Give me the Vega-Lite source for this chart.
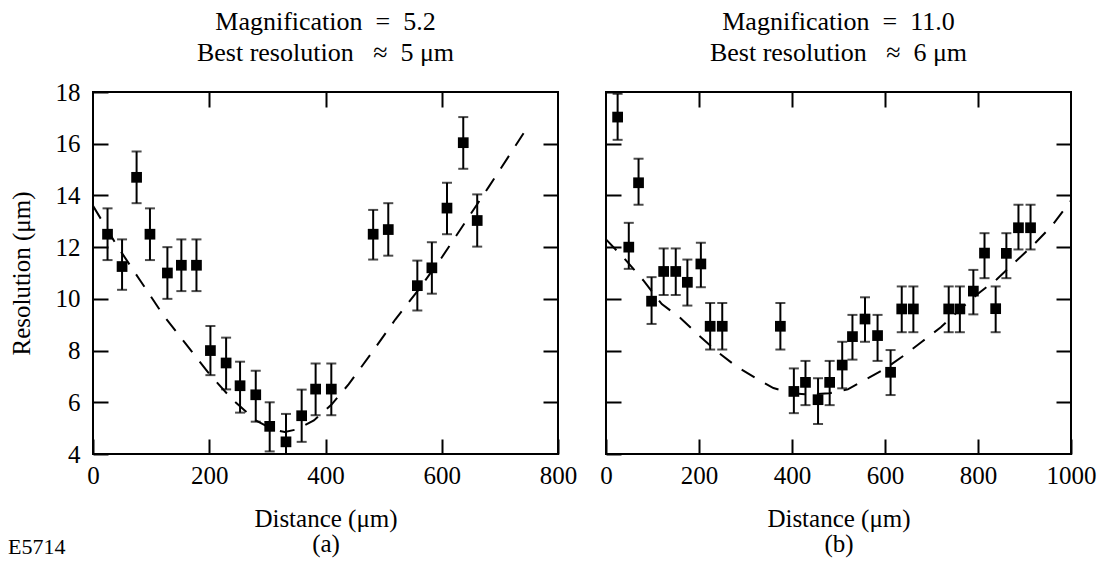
{
  "$schema": "https://vega.github.io/schema/vega-lite/v6.json",
  "background": "white",
  "padding": {"left": 8, "top": 8, "right": 5, "bottom": 2},
  "bounds": "flush",
  "spacing": 48,
  "title": {"text": "E5714", "orient": "bottom", "anchor": "start", "fontSize": 22, "offset": -20},
  "config": {
    "font": "Liberation Serif",
    "view": {"stroke": "black", "strokeWidth": 2},
    "axis": {
      "domain": false, "grid": false, "tickColor": "black", "tickWidth": 2, "tickSize": -15,
      "labelFontSize": 25, "labelColor": "black", "labelPadding": 28, "labelFont": "Liberation Serif",
      "titleFontSize": 25, "titleFontWeight": "normal", "titleColor": "black", "titleFont": "Liberation Serif",
      "labelFlush": false
    },
    "title": {"fontSize": 26, "fontWeight": "normal", "font": "Liberation Serif", "color": "black"}
  },
  "datasets": {
    "a_pts": [
      {"x": 25, "y": 12.5, "lo": 11.5, "hi": 13.5},
      {"x": 50, "y": 11.25, "lo": 10.35, "hi": 12.3},
      {"x": 75, "y": 14.7, "lo": 13.7, "hi": 15.7},
      {"x": 98, "y": 12.5, "lo": 11.5, "hi": 13.5},
      {"x": 128, "y": 11.0, "lo": 10.0, "hi": 12.0},
      {"x": 152, "y": 11.3, "lo": 10.3, "hi": 12.3},
      {"x": 178, "y": 11.3, "lo": 10.3, "hi": 12.3},
      {"x": 202, "y": 8.0, "lo": 7.05, "hi": 8.95},
      {"x": 229, "y": 7.52, "lo": 6.5, "hi": 8.5},
      {"x": 253, "y": 6.64, "lo": 5.6, "hi": 7.57},
      {"x": 280, "y": 6.29, "lo": 5.25, "hi": 7.22},
      {"x": 304, "y": 5.07, "lo": 4.1, "hi": 6.0},
      {"x": 332, "y": 4.47, "lo": 3.5, "hi": 5.55},
      {"x": 359, "y": 5.48, "lo": 4.47, "hi": 6.49},
      {"x": 383, "y": 6.51, "lo": 5.5, "hi": 7.5},
      {"x": 410, "y": 6.51, "lo": 5.5, "hi": 7.5},
      {"x": 482, "y": 12.5, "lo": 11.52, "hi": 13.44},
      {"x": 508, "y": 12.68, "lo": 11.67, "hi": 13.7},
      {"x": 558, "y": 10.51, "lo": 9.55, "hi": 11.48},
      {"x": 583, "y": 11.2, "lo": 10.2, "hi": 12.19},
      {"x": 609, "y": 13.51, "lo": 12.5, "hi": 14.49},
      {"x": 637, "y": 16.04, "lo": 15.03, "hi": 17.03},
      {"x": 661, "y": 13.03, "lo": 12.02, "hi": 14.04}
    ],
    "a_fit": [
      {"x": 0, "y": 13.6}, {"x": 40, "y": 12.1}, {"x": 80, "y": 10.75}, {"x": 120, "y": 9.4},
      {"x": 160, "y": 8.25}, {"x": 200, "y": 7.1}, {"x": 240, "y": 6.1}, {"x": 280, "y": 5.3},
      {"x": 310, "y": 4.95}, {"x": 330, "y": 4.85}, {"x": 350, "y": 4.95}, {"x": 380, "y": 5.3},
      {"x": 410, "y": 5.9}, {"x": 440, "y": 6.7}, {"x": 480, "y": 7.93}, {"x": 520, "y": 9.2},
      {"x": 560, "y": 10.35}, {"x": 600, "y": 11.6}, {"x": 640, "y": 12.95}, {"x": 680, "y": 14.3},
      {"x": 720, "y": 15.68}, {"x": 742, "y": 16.45}
    ],
    "b_pts": [
      {"x": 25, "y": 17.03, "lo": 16.15, "hi": 17.93},
      {"x": 49, "y": 12.0, "lo": 11.16, "hi": 12.94},
      {"x": 70, "y": 14.49, "lo": 13.64, "hi": 15.42},
      {"x": 98, "y": 9.91, "lo": 9.03, "hi": 10.84},
      {"x": 124, "y": 11.06, "lo": 10.15, "hi": 11.95},
      {"x": 150, "y": 11.06, "lo": 10.15, "hi": 11.95},
      {"x": 175, "y": 10.64, "lo": 9.74, "hi": 11.52},
      {"x": 204, "y": 11.35, "lo": 10.45, "hi": 12.17},
      {"x": 224, "y": 8.94, "lo": 8.04, "hi": 9.84},
      {"x": 250, "y": 8.94, "lo": 8.04, "hi": 9.84},
      {"x": 375, "y": 8.94, "lo": 8.04, "hi": 9.84},
      {"x": 404, "y": 6.42, "lo": 5.58, "hi": 7.31},
      {"x": 429, "y": 6.77, "lo": 5.89, "hi": 7.6},
      {"x": 456, "y": 6.1, "lo": 5.16, "hi": 6.93},
      {"x": 481, "y": 6.77, "lo": 5.89, "hi": 7.6},
      {"x": 508, "y": 7.44, "lo": 6.54, "hi": 8.34},
      {"x": 530, "y": 8.54, "lo": 7.65, "hi": 9.38},
      {"x": 557, "y": 9.22, "lo": 8.34, "hi": 10.06},
      {"x": 584, "y": 8.58, "lo": 7.6, "hi": 9.38},
      {"x": 612, "y": 7.16, "lo": 6.28, "hi": 8.02},
      {"x": 636, "y": 9.61, "lo": 8.71, "hi": 10.48},
      {"x": 661, "y": 9.61, "lo": 8.71, "hi": 10.48},
      {"x": 737, "y": 9.61, "lo": 8.71, "hi": 10.48},
      {"x": 761, "y": 9.61, "lo": 8.71, "hi": 10.48},
      {"x": 790, "y": 10.3, "lo": 9.4, "hi": 11.12},
      {"x": 814, "y": 11.77, "lo": 10.8, "hi": 12.54},
      {"x": 838, "y": 9.62, "lo": 8.71, "hi": 10.48},
      {"x": 861, "y": 11.76, "lo": 10.8, "hi": 12.54},
      {"x": 887, "y": 12.75, "lo": 11.91, "hi": 13.64},
      {"x": 913, "y": 12.75, "lo": 11.91, "hi": 13.64}
    ],
    "b_fit": [
      {"x": 0, "y": 12.3}, {"x": 40, "y": 11.55}, {"x": 80, "y": 10.72}, {"x": 120, "y": 9.8},
      {"x": 160, "y": 9.26}, {"x": 200, "y": 8.58}, {"x": 240, "y": 7.95}, {"x": 280, "y": 7.39},
      {"x": 320, "y": 6.96}, {"x": 360, "y": 6.55}, {"x": 400, "y": 6.35}, {"x": 440, "y": 6.3},
      {"x": 480, "y": 6.35}, {"x": 520, "y": 6.5}, {"x": 560, "y": 6.9}, {"x": 600, "y": 7.3},
      {"x": 640, "y": 7.8}, {"x": 680, "y": 8.35}, {"x": 720, "y": 8.9}, {"x": 760, "y": 9.57},
      {"x": 800, "y": 10.2}, {"x": 840, "y": 10.75}, {"x": 880, "y": 11.43}, {"x": 920, "y": 12.1},
      {"x": 960, "y": 12.85}, {"x": 1000, "y": 13.8}
    ]
  },
  "hconcat": [
    {
      "width": 465,
      "height": 362,
      "title": {"text": ["Magnification\u2002=\u20025.2", "Best resolution\u2002 ≈\u20025 μm"], "lineHeight": 31, "offset": 14, "frame": "group"},
      "resolve": {"axis": {"x": "independent", "y": "independent"}},
      "layer": [
        {
          "data": {"name": "a_pts"},
          "mark": {"type": "rule", "color": "black", "strokeWidth": 2, "clip": true},
          "encoding": {
            "x": {"field": "x", "type": "quantitative", "scale": {"domain": [0, 800], "nice": false},
                  "axis": {"values": [0, 200, 400, 600, 800], "format": "d", "labelPadding": 24, "title": ["Distance (μm)", "(a)"], "titlePadding": 18, "titleLineHeight": 25}},
            "y": {"field": "lo", "type": "quantitative", "scale": {"domain": [4, 18], "nice": false, "zero": false},
                  "axis": {"values": [4, 6, 8, 10, 12, 14, 16, 18], "title": "Resolution (μm)", "titlePadding": 21}},
            "y2": {"field": "hi"}
          }
        },
        {
          "data": {"name": "a_pts"},
          "mark": {"type": "tick", "orient": "horizontal", "color": "black", "size": 10, "thickness": 2, "clip": true},
          "encoding": {
            "x": {"field": "x", "type": "quantitative", "axis": null},
            "y": {"field": "lo", "type": "quantitative", "axis": null}
          }
        },
        {
          "data": {"name": "a_pts"},
          "mark": {"type": "tick", "orient": "horizontal", "color": "black", "size": 10, "thickness": 2, "clip": true},
          "encoding": {
            "x": {"field": "x", "type": "quantitative", "axis": null},
            "y": {"field": "hi", "type": "quantitative", "axis": null}
          }
        },
        {
          "data": {"name": "a_fit"},
          "mark": {"type": "line", "color": "black", "strokeWidth": 2, "strokeDash": [15, 12], "clip": true},
          "encoding": {
            "x": {"field": "x", "type": "quantitative", "axis": null},
            "y": {"field": "y", "type": "quantitative", "axis": null}
          }
        },
        {
          "data": {"name": "a_pts"},
          "mark": {"type": "square", "color": "black", "opacity": 1, "size": 115, "clip": true},
          "encoding": {
            "x": {"field": "x", "type": "quantitative", "axis": null},
            "y": {"field": "y", "type": "quantitative", "axis": null}
          }
        },
        {
          "data": {"name": "a_pts"},
          "mark": {"type": "point", "opacity": 0},
          "encoding": {
            "x": {"field": "x", "type": "quantitative", "axis": {"orient": "top", "values": [200, 400, 600], "labels": false, "title": null}},
            "y": {"field": "y", "type": "quantitative", "axis": {"orient": "right", "values": [6, 8, 10, 12, 14, 16], "labels": false, "title": null}}
          }
        }
      ]
    },
    {
      "width": 465,
      "height": 362,
      "title": {"text": ["Magnification\u2002=\u200211.0", "Best resolution\u2002 ≈\u20026 μm"], "lineHeight": 31, "offset": 14, "frame": "group"},
      "resolve": {"axis": {"x": "independent", "y": "independent"}},
      "layer": [
        {
          "data": {"name": "b_pts"},
          "mark": {"type": "rule", "color": "black", "strokeWidth": 2, "clip": true},
          "encoding": {
            "x": {"field": "x", "type": "quantitative", "scale": {"domain": [0, 1000], "nice": false},
                  "axis": {"values": [0, 200, 400, 600, 800, 1000], "format": "d", "labelPadding": 24, "title": ["Distance (μm)", "(b)"], "titlePadding": 18, "titleLineHeight": 25}},
            "y": {"field": "lo", "type": "quantitative", "scale": {"domain": [4, 18], "nice": false, "zero": false},
                  "axis": {"values": [4, 6, 8, 10, 12, 14, 16, 18], "labelOpacity": 0, "title": null}},
            "y2": {"field": "hi"}
          }
        },
        {
          "data": {"name": "b_pts"},
          "mark": {"type": "tick", "orient": "horizontal", "color": "black", "size": 10, "thickness": 2, "clip": true},
          "encoding": {
            "x": {"field": "x", "type": "quantitative", "axis": null},
            "y": {"field": "lo", "type": "quantitative", "axis": null}
          }
        },
        {
          "data": {"name": "b_pts"},
          "mark": {"type": "tick", "orient": "horizontal", "color": "black", "size": 10, "thickness": 2, "clip": true},
          "encoding": {
            "x": {"field": "x", "type": "quantitative", "axis": null},
            "y": {"field": "hi", "type": "quantitative", "axis": null}
          }
        },
        {
          "data": {"name": "b_fit"},
          "mark": {"type": "line", "color": "black", "strokeWidth": 2, "strokeDash": [15, 12], "clip": true},
          "encoding": {
            "x": {"field": "x", "type": "quantitative", "axis": null},
            "y": {"field": "y", "type": "quantitative", "axis": null}
          }
        },
        {
          "data": {"name": "b_pts"},
          "mark": {"type": "square", "color": "black", "opacity": 1, "size": 115, "clip": true},
          "encoding": {
            "x": {"field": "x", "type": "quantitative", "axis": null},
            "y": {"field": "y", "type": "quantitative", "axis": null}
          }
        },
        {
          "data": {"name": "b_pts"},
          "mark": {"type": "point", "opacity": 0},
          "encoding": {
            "x": {"field": "x", "type": "quantitative", "axis": {"orient": "top", "values": [200, 400, 600, 800], "labels": false, "title": null}},
            "y": {"field": "y", "type": "quantitative", "axis": {"orient": "right", "values": [6, 8, 10, 12, 14, 16], "labels": false, "title": null}}
          }
        }
      ]
    }
  ]
}
